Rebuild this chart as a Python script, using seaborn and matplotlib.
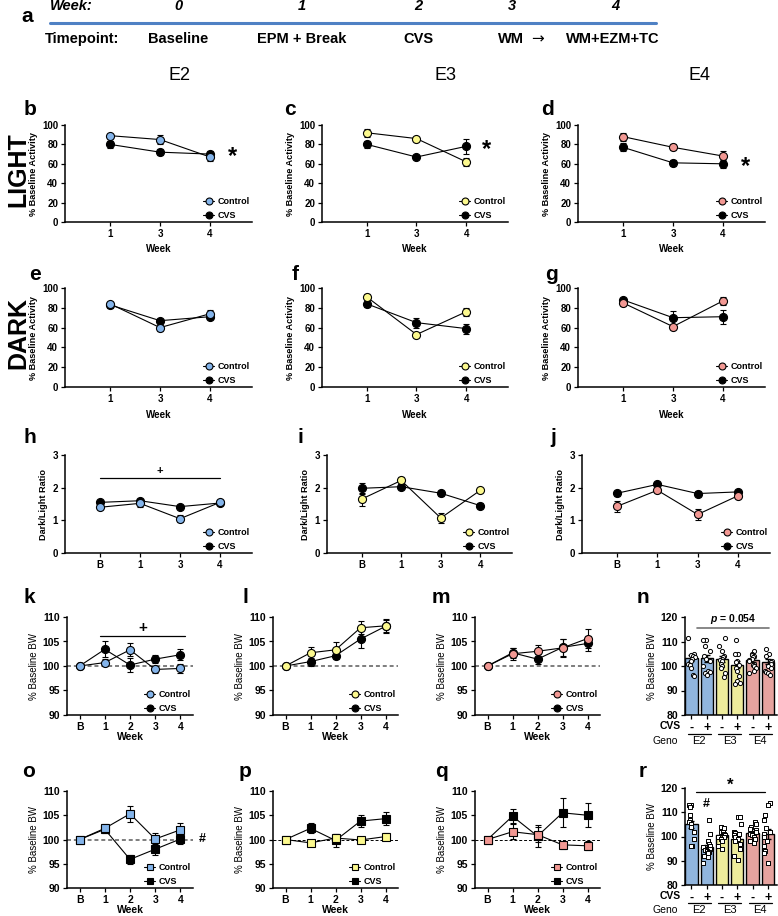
import matplotlib
matplotlib.use("Agg")
import matplotlib.pyplot as plt
import matplotlib.transforms as mtransforms
from matplotlib.lines import Line2D
import numpy as np
import pandas as pd
import seaborn as sns

# figure size in pixels; all layout below is given in pixel coordinates
W, H = 778, 916

BLUE = "#84B4EA"
YELLOW = "#FCF98E"
PINK = "#F29893"
GENO_COLORS = {"E2": BLUE, "E3": YELLOW, "E4": PINK}
GENOS = ["E2", "E3", "E4"]

# ---------------- data ----------------
timeline_weeks = ["0", "1", "2", "3", "4"]
timeline_events = ["Baseline", "EPM + Break", "CVS"]

act_weeks = ["1", "3", "4"]
ratio_weeks = ["B", "1", "3", "4"]
bw_weeks = ["B", "1", "2", "3", "4"]

# % baseline activity, light phase (mean / sem)
light_ctrl = {"E2": [89, 85, 67], "E3": [92, 86, 62], "E4": [88, 77, 68]}
light_ctrl_err = {"E2": [2, 5, 4], "E3": [4, 2, 4], "E4": [4, 3, 5]}
light_cvs = {"E2": [80, 72, 70], "E3": [80, 67, 78], "E4": [77, 61, 60]}
light_cvs_err = {"E2": [4, 3, 3], "E3": [4, 2, 8], "E4": [4, 3, 4]}

# % baseline activity, dark phase
dark_ctrl = {"E2": [84, 60, 74], "E3": [91, 53, 76], "E4": [85, 61, 87]}
dark_ctrl_err = {"E2": [2, 3, 4], "E3": [3, 2, 4], "E4": [3, 2, 4]}
dark_cvs = {"E2": [83, 67, 71], "E3": [84, 65, 59], "E4": [88, 70, 71]}
dark_cvs_err = {"E2": [3, 2, 2], "E3": [3, 5, 5], "E4": [2, 7, 7]}

# dark/light ratio
ratio_ctrl = {"E2": [1.40, 1.52, 1.05, 1.55], "E3": [1.65, 2.22, 1.07, 1.92], "E4": [1.43, 1.92, 1.18, 1.75]}
ratio_ctrl_err = {"E2": [0.05, 0.10, 0.10, 0.05], "E3": [0.20, 0.12, 0.16, 0.05], "E4": [0.17, 0.05, 0.18, 0.05]}
ratio_cvs = {"E2": [1.55, 1.60, 1.42, 1.53], "E3": [1.98, 2.03, 1.83, 1.45], "E4": [1.83, 2.10, 1.82, 1.87]}
ratio_cvs_err = {"E2": [0.05, 0.05, 0.05, 0.05], "E3": [0.16, 0.05, 0.08, 0.07], "E4": [0.08, 0.07, 0.07, 0.06]}

# % baseline body weight, cohort 1 (circles)
bw1_ctrl = {"E2": [100, 100.7, 103.3, 99.3, 99.5], "E3": [100, 102.7, 103.3, 107.8, 108.2], "E4": [100, 102.5, 103.0, 103.7, 105.6]}
bw1_ctrl_err = {"E2": [0, 0.7, 1.3, 0.8, 1.0], "E3": [0, 1.2, 1.5, 1.3, 1.4], "E4": [0, 1.2, 1.3, 1.9, 2.0]}
bw1_cvs = {"E2": [100, 103.4, 100.2, 101.4, 102.3], "E3": [100, 100.9, 102.1, 105.5, 108.1], "E4": [100, 102.7, 101.4, 103.8, 104.6]}
bw1_cvs_err = {"E2": [0, 1.6, 1.5, 0.8, 1.1], "E3": [0, 0.8, 0.7, 1.8, 1.2], "E4": [0, 1.0, 1.0, 1.8, 1.5]}

# % baseline body weight, cohort 2 (squares)
bw2_ctrl = {"E2": [100, 102.3, 105.3, 100.1, 102.0], "E3": [100, 99.3, 100.3, 99.9, 100.6], "E4": [100, 101.6, 101.0, 98.9, 98.7]}
bw2_ctrl_err = {"E2": [0, 0.8, 1.7, 1.3, 1.3], "E3": [0, 0.5, 0.8, 0.6, 0.7], "E4": [0, 1.5, 1.5, 0.8, 0.9]}
bw2_cvs = {"E2": [100, 102.1, 95.9, 98.0, 100.1], "E3": [100, 102.3, 99.8, 103.8, 104.3], "E4": [100, 104.8, 100.7, 105.5, 105.0]}
bw2_cvs_err = {"E2": [0, 0.7, 1.0, 1.1, 1.1], "E3": [0, 1.0, 1.3, 1.2, 1.3], "E4": [0, 1.5, 2.3, 3.0, 2.5]}

# final body weight bars (n: cohort 1, r: cohort 2)
bar_conds = ["E2-", "E2+", "E3-", "E3+", "E4-", "E4+"]
bar_ticklabels = ["-", "+", "-", "+", "-", "+"]
n_means = [103.3, 103.2, 103.0, 100.6, 102.4, 101.8]
n_sems = [1.3, 1.4, 1.2, 1.5, 0.8, 1.0]
n_points = {
    "E2-": [111.5, 105, 104.5, 104, 103.5, 103, 102, 101, 100.5, 99, 96.5, 96],
    "E2+": [110.5, 110.5, 108, 106, 104, 103, 102, 100, 98, 97.5, 97, 96.5],
    "E3-": [111.3, 108, 106, 104, 103.5, 103, 102.5, 102, 101, 100, 99, 97, 95.5],
    "E3+": [110.8, 105, 105, 102, 101.5, 100.5, 99, 98, 96, 94, 93, 92.5],
    "E4-": [106, 105, 104.5, 104, 103.5, 103, 102.5, 102, 101, 100.5, 100, 99, 98, 97],
    "E4+": [107, 105, 104, 102, 101.5, 101, 100, 99, 98, 97.5, 97, 96.5],
}
r_means = [105.0, 95.5, 100.5, 99.0, 101.5, 101.0]
r_sems = [1.5, 1.2, 0.9, 1.4, 0.9, 2.0]
r_points = {
    "E2-": [113, 113, 112, 109, 107, 106, 105, 104, 102, 99, 96, 96],
    "E2+": [107, 101, 98, 97, 96, 95.5, 95, 94.5, 94, 93.5, 93, 92, 91.5, 89],
    "E3-": [104, 103.5, 102, 102, 101, 100.5, 100, 100, 99, 98, 96, 95],
    "E3+": [108, 108, 105, 102, 101.5, 101, 100.5, 100, 99, 98, 97, 95, 92, 90.5],
    "E4-": [106, 105, 104, 103, 102.5, 102, 101, 100.5, 100, 99, 98, 97.5],
    "E4+": [114, 113, 109, 107, 103.5, 102, 101, 100, 98, 96, 94, 93, 89],
}

# ---------------- style ----------------
sns.set_theme(style="ticks")
plt.rcParams["font.family"] = ["Liberation Sans", "DejaVu Sans"]
plt.rcParams["font.weight"] = "bold"
plt.rcParams["axes.labelweight"] = "bold"
plt.rcParams["mathtext.fontset"] = "custom"
plt.rcParams["mathtext.it"] = "Liberation Sans:italic:bold"
plt.rcParams["mathtext.rm"] = "Liberation Sans:bold"
plt.rcParams["text.color"] = "black"
plt.rcParams["axes.labelcolor"] = "black"
np.random.seed(7)  # strip jitter only

fig = plt.figure(figsize=(W / 100, H / 100), dpi=100)
fig.patch.set_facecolor("white")


def px_axes(left, top, right, bottom):
    return fig.add_axes([left / W, 1 - bottom / H, (right - left) / W, (bottom - top) / H])


def px_text(x, y, s, **kw):
    kw.setdefault("ha", "center")
    kw.setdefault("va", "center")
    fig.text(x / W, 1 - y / H, s, **kw)


def style_axes(ax, tick_size=7):
    sns.despine(ax=ax)
    ax.set_facecolor("none")
    ax.grid(False)
    for side in ("left", "bottom"):
        ax.spines[side].set_color("black")
        ax.spines[side].set_linewidth(1.1)
    ax.tick_params(axis="both", direction="out", length=3, width=0.9, pad=2,
                   labelsize=tick_size, colors="black")


def add_legend(ax, color, marker, fontsize=6.5):
    handles = [Line2D([], [], color="black", lw=0.8, marker=marker, markersize=5,
                      markerfacecolor=c, markeredgecolor="black", markeredgewidth=0.8)
               for c in (color, "black")]
    ax.legend(handles, ["Control", "CVS"], loc="lower right", frameon=False,
              fontsize=fontsize, handlelength=1.3, handletextpad=0.4,
              labelspacing=0.55, borderaxespad=0.1, borderpad=0.1)


def line_panel(ax, xlabels, ctrl, ctrl_err, cvs, cvs_err, color, marker, xlim, tick_size=7):
    pos = list(range(len(xlabels)))
    for vals, err, face in ((cvs, cvs_err, "black"), (ctrl, ctrl_err, color)):
        ax.errorbar(pos, vals, yerr=err, fmt="none", ecolor="black", elinewidth=0.8,
                    capsize=2, capthick=0.8, zorder=2)
        sns.lineplot(x=pos, y=vals, ax=ax, color="black", linewidth=0.8, marker=marker,
                     markersize=5.8, markerfacecolor=face, markeredgecolor="black",
                     markeredgewidth=0.8, zorder=3)
    ax.set_xticks(pos)
    ax.set_xticklabels(xlabels)
    ax.set_xlim(*xlim)
    style_axes(ax, tick_size)
    add_legend(ax, color, marker)


def bar_panel(ax, means, sems, points, marker):
    colors = [GENO_COLORS[c[:2]] for c in bar_conds]
    sns.barplot(x=bar_conds, y=means, hue=bar_conds, palette=colors, order=bar_conds,
                hue_order=bar_conds, legend=False, width=0.8, edgecolor="black",
                linewidth=1.0, errorbar=None, ax=ax, zorder=1)
    ax.errorbar(range(len(bar_conds)), means, yerr=sems, fmt="none", ecolor="black",
                elinewidth=1.0, capsize=2.5, capthick=1.0, zorder=2)
    pts = pd.DataFrame([(c, v) for c in bar_conds for v in points[c]], columns=["cond", "val"])
    sns.stripplot(data=pts, x="cond", y="val", order=bar_conds, marker=marker, size=3.0,
                  jitter=0.26, color="white", edgecolor="black", linewidth=0.7, ax=ax, zorder=3)
    ax.set_xlim(-0.42, 5.6)
    ax.set_ylim(80, 120)
    ax.set_yticks([80, 90, 100, 110, 120])
    ax.set_xticks(range(len(bar_conds)))
    ax.set_xticklabels(bar_ticklabels, fontsize=9)
    ax.set_xlabel("")
    ax.set_ylabel("% Baseline BW", fontsize=7, fontweight="normal", labelpad=3)
    style_axes(ax, 7.5)
    ax.tick_params(axis="x", labelsize=9)


# ---------------- panel a: timeline ----------------
px_text(27, 17, "a", fontsize=15, fontweight="bold")
px_text(50, 6, "Week:", ha="left", fontsize=10.5, fontstyle="italic")
week_x = [178, 302, 418, 512, 615]
for x, w in zip(week_x, timeline_weeks):
    px_text(x, 6, w, fontsize=10.5, fontstyle="italic")
fig.add_artist(Line2D([50 / W, 656 / W], [1 - 23 / H, 1 - 23 / H], color="#4F81C4", lw=2.2))
px_text(45, 39, "Timepoint:", ha="left", fontsize=10.5)
for x, ev in zip([178, 302, 418], timeline_events):
    px_text(x, 39, ev, fontsize=10.5)
px_text(511, 39, "WM", fontsize=10.5)
px_text(538, 39, "\u2192", fontsize=11, family="DejaVu Sans", fontweight="normal")
px_text(613, 39, "WM+EZM+TC", fontsize=10.5)

# column / row headers
for x, g in zip([180, 445, 700], GENOS):
    px_text(x, 75, g, fontsize=13, fontweight="normal")
px_text(18, 170, "LIGHT", fontsize=18, rotation=90)
px_text(18, 333, "DARK", fontsize=18, rotation=90)

# ---------------- rows b-g: activity ----------------
act_cols = [(65, 252), (322, 508), (578, 765)]
letters_light = ["b", "c", "d"]
letters_dark = ["e", "f", "g"]
letter_x = [30, 290, 547]
stars_light = [(2.45, 67), (2.4, 75), (2.45, 57)]

for i, g in enumerate(GENOS):
    left, right = act_cols[i]
    for (top, bottom), ctrl, ce, cvs, ve, letters, base in (
        ((125, 222), light_ctrl, light_ctrl_err, light_cvs, light_cvs_err, letters_light, 115),
        ((288, 387), dark_ctrl, dark_ctrl_err, dark_cvs, dark_cvs_err, letters_dark, 280),
    ):
        ax = px_axes(left, top, right, bottom)
        line_panel(ax, act_weeks, ctrl[g], ce[g], cvs[g], ve[g], GENO_COLORS[g], "o", (-0.9, 2.84))
        ax.set_ylim(0, 100)
        ax.set_yticks([0, 20, 40, 60, 80, 100])
        ax.set_ylabel("% Baseline Activity", fontsize=6.6, labelpad=3)
        ax.set_xlabel("Week", fontsize=7, labelpad=4)
        px_text(letter_x[i] + (5 if letters is letters_dark else 0), base, letters[i],
                fontsize=15, va="baseline")
        if letters is letters_light:
            sx, sy = stars_light[i]
            ax.text(sx, sy, "*", fontsize=17, ha="center", va="center", clip_on=False)

# ---------------- row h-j: dark/light ratio ----------------
ratio_cols = [(65, 252), (327, 512), (582, 770)]
for i, g in enumerate(GENOS):
    left, right = ratio_cols[i]
    ax = px_axes(left, 455, right, 553)
    line_panel(ax, ratio_weeks, ratio_ctrl[g], ratio_ctrl_err[g], ratio_cvs[g], ratio_cvs_err[g],
               GENO_COLORS[g], "o", (-0.875, 3.8))
    ax.set_ylim(0, 3)
    ax.set_yticks([0, 1, 2, 3])
    ax.set_ylabel("Dark/Light Ratio", fontsize=6.6, labelpad=3)
    px_text([30, 300, 553][i], 443, "hij"[i], fontsize=15, va="baseline")
    if g == "E2":
        ax.plot([0, 3], [2.29, 2.29], color="black", lw=0.9)
        ax.text(1.5, 2.36, "+", fontsize=8, ha="center", va="bottom")

# ---------------- rows k-m / o-q: body weight ----------------
bw_cols = [(67, 193), (273, 398), (475, 600)]
for row, (top, bottom, ctrl, ce, cvs, ve, marker, letters, base) in enumerate((
        (617, 715, bw1_ctrl, bw1_ctrl_err, bw1_cvs, bw1_cvs_err, "o", "klm", 603),
        (791, 888, bw2_ctrl, bw2_ctrl_err, bw2_cvs, bw2_cvs_err, "s", "opq", 777))):
    for i, g in enumerate(GENOS):
        left, right = bw_cols[i]
        ax = px_axes(left, top, right, bottom)
        if row == 0 or g == "E2":
            ax.axhline(100, color="0.45", lw=1.3, ls=(0, (2.2, 1.6)), zorder=1)
        else:
            ax.axhline(100, color="black", lw=0.7, ls=(0, (3, 2)), zorder=1)
        line_panel(ax, bw_weeks, ctrl[g], ce[g], cvs[g], ve[g], GENO_COLORS[g], marker,
                   (-0.5, 4.5), tick_size=7.5)
        ax.set_ylim(90, 110)
        ax.set_yticks([90, 95, 100, 105, 110])
        ax.set_ylabel("% Baseline BW", fontsize=7, fontweight="normal", labelpad=3)
        ax.set_xlabel("Week", fontsize=7.5, labelpad=0)
        px_text([29, 245, 441][i], base, letters[i], fontsize=15, va="baseline")
        if row == 0 and g == "E2":
            ax.plot([0.8, 4.2], [106.1, 106.1], color="black", lw=0.9)
            ax.text(2.5, 106.4, "+", fontsize=11, ha="center", va="bottom")
        if row == 1 and g == "E2":
            ax.text(4.85, 100, "#", fontsize=9, ha="center", va="center", clip_on=False)

# ---------------- bars n / r ----------------
for means, sems, points, marker, (top, bottom), letter, base, cvs_y, line_y, geno_y in (
        (n_means, n_sems, n_points, "o", (617, 715), "n", 603, 726, 734, 741),
        (r_means, r_sems, r_points, "s", (788, 885), "r", 777, 896, 903, 910)):
    ax = px_axes(685, top, 777, bottom)
    bar_panel(ax, means, sems, points, marker)
    px_text(643, base, letter, fontsize=15, va="baseline")
    px_text(681, cvs_y, "CVS", fontsize=7.5, ha="right")
    px_text(678, geno_y, "Geno", fontsize=7.5, fontweight="normal", ha="right")
    trans = mtransforms.blended_transform_factory(ax.transData, ax.transAxes)
    height = bottom - top
    for j, g in enumerate(GENOS):
        c = 2 * j + 0.5
        ax.text(c, -(geno_y - bottom) / height, g, transform=trans, ha="center", va="center",
                fontsize=8, fontweight="normal", clip_on=False)
        ax.plot([c - 0.75, c + 0.75], [-(line_y - bottom) / height] * 2, transform=trans,
                color="black", lw=0.9, clip_on=False)
    if letter == "n":
        ax.plot([0.35, 5.05], [115.5, 115.5], color="0.45", lw=1.2)
        ax.text(2.7, 116.3, r"$\it{p}$ = 0.054", fontsize=7.5, ha="center", va="bottom")
    else:
        ax.plot([0.3, 4.8], [118.4, 118.4], color="black", lw=0.9)
        ax.text(2.55, 118.0, "*", fontsize=12, ha="center", va="bottom")
        ax.text(1, 113.5, "#", fontsize=9, ha="center", va="center")

fig.savefig("out.png", dpi=100, facecolor="white")
